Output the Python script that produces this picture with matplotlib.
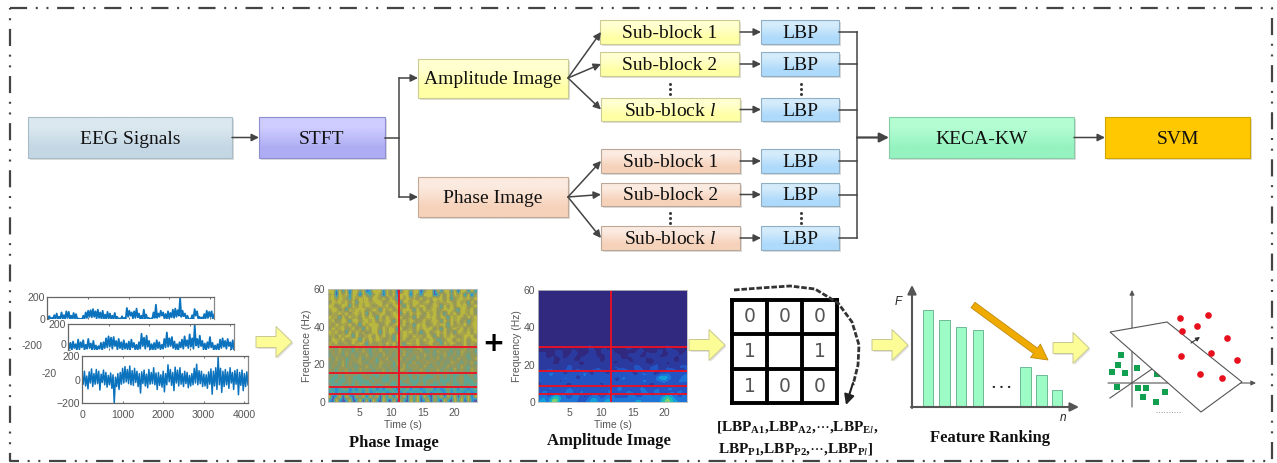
import numpy as np
import matplotlib
matplotlib.use("Agg")
import matplotlib.pyplot as plt
from matplotlib.patches import Polygon, Rectangle
from matplotlib.colors import ListedColormap

plt.rcParams['font.family'] = 'Liberation Serif'
plt.rcParams['mathtext.fontset'] = 'custom'
plt.rcParams['mathtext.rm'] = 'Liberation Serif'
plt.rcParams['mathtext.it'] = 'Liberation Serif:italic'
plt.rcParams['mathtext.bf'] = 'Liberation Serif:bold'

# ---------- data ----------
eeg_top = [40,0,25,0,10,0,35,0,50,0,20,5,60,0,35,0,70,10,65,0,30,0,55,0,45,0,5,0,0,0,30,0,60,10,75,20,80,15,90,20,70,5,85,10,
           60,0,75,0,40,0,65,5,50,0,30,0,55,0,20,0,5,0,25,0,10,0,100,20,75,30,60,5,70,10,95,15,50,0,30,0,85,5,40,0,10,0,5,0,
           60,10,130,10,50,20,75,30,60,5,45,0,70,5,55,15,85,10,95,20,80,30,190,20,75,25,50,5,30,0,0,0,35,0,90,30,70,5,20,0,
           15,0,45,0,75,10,65,20,70,0,40]
eeg_mid = [70,10,55,0,65,15,45,0,80,5,60,20,75,0,40,10,85,15,50,0,70,5,35,0,30,10,55,0,60,15,90,20,105,25,95,10,100,30,70,5,
           85,15,60,0,75,10,50,5,65,0,80,20,55,5,40,0,60,10,125,30,95,10,110,25,70,0,45,5,55,0,75,15,60,5,40,10,85,20,135,25,
           90,30,100,15,65,5,45,0,60,20,80,10,105,30,75,15,120,25,90,10,190,35,85,20,110,30,70,5,50,0,60,15,100,20,55,0,35,5,
           45,0,80,15,90,25,70,10,85,30,60,5,75,0]
eeg_bot = [40,-40,70,-55,30,-80,65,-30,90,-60,50,-40,85,-35,70,-90,45,-25,80,-45,60,-65,35,-45,55,-75,40,-200,20,-60,50,-85,
           60,-40,95,-30,110,-20,85,-35,115,-45,75,-50,95,-25,70,-60,50,-115,65,-35,80,-55,45,-70,85,-40,60,-35,100,-45,55,-85,
           60,-50,40,-65,70,-105,50,-45,125,-20,85,-50,60,-95,105,-30,80,-55,100,-40,50,-60,70,-35,60,-70,35,-55,50,-45,95,-30,
           130,-45,75,-35,70,-60,45,-55,40,-75,65,-40,90,-125,70,-55,100,-85,190,-45,95,-110,70,-60,85,-45,65,-75,100,-30,60,-85,
           75,-40,85,-130,60,-50,80,-95,50,-60,65,-45]
eeg_yticks = [0, 200]
eeg_bot_yticks = [-200, 0, 200]
eeg_xticks = [0, 1000, 2000, 3000, 4000]

phase_rows = [
 "88283818848138882858138838815881828838188283",
 "68186828718536861858287818628881385848682816",
 "78587638687858768586386867585768785836786858",
 "58786858387867885678538768857858676875867385",
 "87568738586875686857873858687568738586878568",
 "68857386878568738685768873858678568785387685",
 "57686857868385778568738586875868573868587685",
 "86738586758687385867885673856878587386875868",
 "68568738857868576873858687568578738586857368",
 "75867685738687856857868573878568687385768578",
 "58678568573868758687385675868785738568685768",
 "86857385867568738687568785736857868573876858",
 "67586873856785868573868758675873858687568785",
 "58768568738586875673868576858687356875868578",
 "76856758687385675868573876856785738687568576",
 "65476564756546574656475465764566475654657465",
 "56574654657546576465647546575464756546476564",
 "46564756465745647564657465647564657456475465",
 "64756456574656465746574654756465746564756457",
 "55647465675465476564756547465756465476546574",
 "46557465465746574654657465647546564756475465",
 "65465746475654657465476546575465746547565476",
 "45454645546454456454546445456454546454454564",
 "54454564445645454456454546454445645454564454",
 "44544564544454654454545644454564544454564445",
 "54445454645445445644544454564544454654454544",
 "43234523243534232453243524323452323534243234",
 "34243324342523434234325243342423432524332423",
 "81381831738183817381838173818317381838173818",
 "31831381381718318318173183813817318318381731",
]
phase_row_len = 44

amp_rows = [
 "000000000000000000000000000000000000",
 "000000000000000000000000000000000000",
 "000000000000000000000000000000000000",
 "000000000000000000000000000000000000",
 "000000000000000000000000000000000000",
 "000000000000000000000000000000000000",
 "000000000000000000000000000000000000",
 "000000000000000000000000000000000000",
 "000000000000000000000000000000000000",
 "000000000000000000000000000000000000",
 "000000000000000000000000000000000000",
 "000000000000000000000000000000000000",
 "000010000000100000000001000000000010",
 "001001100011000100001010010001000100",
 "011010011101101010110101001010110101",
 "101101101010210110101120110101021011",
 "111021102110120212101101211012111201",
 "120112012101211021120121102211012112",
 "211201121022112012211102120111221021",
 "112102211201121121012211211022102112",
 "221121132112212211322113212231221132",
 "213212231322132212122312321322133212",
 "233423123234213322342231243212332423",
 "323232433123242323214323323336552134",
 "232331323323232233223223243232423343",
 "133223212332223132233222322123223122",
 "323423243132432333243232342333243232",
 "243132343243123324232433243243123342",
 "342464323421343234323243234333564324",
 "453773434323454354343434534434675443",
]
amp_freq_lines = [4.3, 8.5, 16.5, 29.5]
phase_freq_lines = [4.2, 8.0, 15.5, 29]
phase_cut = 11.2
amp_cut = 11.5
spec_xticks = [5, 10, 15, 20]
spec_yticks = [0, 20, 40, 60]

lbp_cells = [["0", "0", "0"], ["1", "", "1"], ["1", "0", "0"]]
rank_values = [97, 87, 80, 77, 40, 32, 17]

svm_red = [(1180,318),(1208,315),(1197,326),(1182,331),(1227,338),(1211,353),(1181,356),(1237,360),(1200,374),(1222,378)]
svm_green = [(1121,355),(1118,365),(1112,372),(1125,373),(1137,368),(1157,374),(1117,387),(1138,388),(1146,388),(1165,392),(1143,397),(1156,402)]

# ---------- helpers ----------
W, H = 1277, 463
fig = plt.figure(figsize=(W/100, H/100), dpi=100, facecolor='white')

def inset(x0, y0, x1, y1, z):
    return fig.add_axes([x0/W, 1-y1/H, (x1-x0)/W, (y1-y0)/H], zorder=z)

bg = inset(0, 0, W, H, 0)
bg.axis('off')
ov = inset(0, 0, W, H, 20)
ov.set_xlim(0, W); ov.set_ylim(H, 0); ov.axis('off'); ov.patch.set_alpha(0)

def box(x0, y0, x1, y1, c_top, c_bot, edge, label, fs=14):
    bg.add_patch(Rectangle((x0+1.5, y0+1.5), x1-x0, y1-y0, fc='#dcdcdc', ec='none', zorder=1))
    top = np.array(matplotlib.colors.to_rgb(c_top)); bot = np.array(matplotlib.colors.to_rgb(c_bot))
    grad = np.array([top, bot]).reshape(2, 1, 3)
    bg.imshow(grad, extent=(x0, x1, y1, y0), aspect='auto', interpolation='bilinear', zorder=2)
    bg.add_patch(Rectangle((x0, y0), x1-x0, y1-y0, fc='none', ec=edge, lw=0.8, zorder=3))
    bg.text((x0+x1)/2, (y0+y1)/2-0.5, label, ha='center', va='center_baseline', fontsize=fs, color='#111111', zorder=4)

def arrow(p, q, lw=1.1, ms=11):
    bg.annotate('', xy=q, xytext=p, zorder=5,
                arrowprops=dict(arrowstyle='-|>', color='#444444', lw=lw, mutation_scale=ms, shrinkA=0, shrinkB=0))

def line(xs, ys):
    bg.plot(xs, ys, color='#444444', lw=1.1, zorder=5, solid_capstyle='projecting')

def vdots(x, y):
    bg.plot([x, x, x], [y-5, y, y+5], ls='none', marker='s', ms=1.0, color='#333333', zorder=5)

def block_arrow(x0, x1, yc, zo=6):
    pts = [(x0, yc-5.5), (x0+20, yc-5.5), (x0+20, yc-15.5), (x1, yc), (x0+20, yc+15.5), (x0+20, yc+5.5), (x0, yc+5.5)]
    ov.add_patch(Polygon([(a+1.5, b+1.5) for a, b in pts], fc='#e2e2e2', ec='none', zorder=zo))
    ov.add_patch(Polygon(pts, fc='#fdfd98', ec='#c8c890', lw=0.7, zorder=zo+1))

# ---------- top flow ----------
box(28, 117, 232, 158, '#dbe8ef', '#c4d7e4', '#a8bcc8', 'EEG Signals')
box(259, 117, 385, 158, '#cfcdff', '#aeadf4', '#8f8ed0', 'STFT')
box(418, 59, 568, 98, '#ffffd0', '#ffffa5', '#cbcb96', 'Amplitude Image')
box(418, 177, 568, 217, '#fbeadf', '#f6d2ba', '#c4ab98', 'Phase Image')

amp_y = [(20, 44), (52, 76), (98, 121)]
pha_y = [(149, 173), (183, 206), (226, 250)]
sb_names = ['Sub-block 1', 'Sub-block 2', 'Sub-block $\\mathit{l}$']
for (a, b), name, dx in zip(amp_y, sb_names, [0, 0, 1]):
    box(600+dx, a, 739+dx, b, '#ffffd0', '#ffffa5', '#cbcb96', name)
for (a, b), name in zip(pha_y, sb_names):
    box(601, a, 740, b, '#fbeadf', '#f6d2ba', '#bca898', name)
for a, b in amp_y + pha_y:
    box(761, a, 839, b, '#d3ebfb', '#aedafb', '#90afc4', 'LBP')
    m = (a+b)/2
    arrow((740, m), (761, m))
    line([839, 857], [m, m])
    arrow((568, 78 if a < 130 else 197), (601, m))
line([857, 857], [32, 238])
arrow((857, 137.5), (889, 137.5), lw=1.6, ms=14)
box(889, 117, 1074, 158, '#b4fdd2', '#95f3c0', '#86cda6', 'KECA-KW')
box(1105, 117, 1250, 158, '#ffc800', '#ffc800', '#cfa600', 'SVM')
arrow((232, 137.5), (259, 137.5))
arrow((1074, 137.5), (1105, 137.5))
line([385, 399], [137.5, 137.5])
line([399, 399], [78, 197])
arrow((399, 78), (418, 78))
arrow((399, 197), (418, 197))
for x in (670, 801):
    vdots(x, 89)
    vdots(x, 218)

# ---------- EEG panels ----------
tick_col = '#555555'
tick_font = ['Liberation Sans']
def eeg_panel(x0, y0, x1, y1, vals, ylim, yt, xt, z, lw):
    ax = inset(x0, y0, x1, y1, z)
    ax.plot(np.linspace(0, 4096, len(vals)), vals, color='#0b72bd', lw=lw)
    ax.set_xlim(0, 4096); ax.set_ylim(*ylim)
    ax.set_yticks(yt); ax.set_xticks(xt)
    ax.tick_params(colors=tick_col, labelsize=7.6, length=1.5, width=0.6, pad=1.5, direction='in', top=True)
    ax.tick_params(axis='x', pad=5)
    for t in ax.get_xticklabels() + ax.get_yticklabels():
        t.set_fontfamily(tick_font)
    for s in ax.spines.values():
        s.set_color('#666666'); s.set_linewidth(0.9)
    ax.spines['right'].set_color('#888888')
    return ax
a1 = eeg_panel(47, 297, 214, 319, eeg_top, (0, 200), eeg_yticks, eeg_xticks, 3, 1.3)
a1.spines['bottom'].set_visible(False); a1.set_xticklabels([])
a2 = eeg_panel(68, 324, 234, 350, eeg_mid, (0, 200), eeg_yticks, eeg_xticks, 4, 1.3)
a2.spines['bottom'].set_visible(False); a2.set_xticklabels([])
a2.get_yticklabels()[0].set_va('bottom')
a3 = eeg_panel(82, 356, 248, 403, eeg_bot, (-200, 200), eeg_bot_yticks, eeg_xticks, 5, 1.1)
ov_txt = dict(ha='right', va='center', fontsize=7.6, color=tick_col, family=tick_font)
bg.text(42, 346, '-200', **ov_txt)
bg.text(57, 374, '-20', **ov_txt)

# ---------- spectrograms ----------
phase_map = ListedColormap(['#45408a', '#5a5aa5', '#2f8fd0', '#3fa5b0', '#5fa58f', '#86996a', '#979858', '#a5a44c', '#b9b73e'])
amp_map = ListedColormap(['#30297f', '#2a3a9e', '#2354c4', '#1d74d8', '#12a0d8', '#20c0b0', '#80d070', '#e0d040'])
def grid(rows, n):
    return np.array([[int(c) for c in r[:n]] for r in rows])
def spec(x0, y0, x1, y1, arr, cmap, vmax, freqs, cut, ylabel, interp):
    ax = inset(x0, y0, x1, y1, 6)
    ax.imshow(arr, extent=(0, 23.6, 0, 60), aspect='auto', cmap=cmap, vmin=0, vmax=vmax, interpolation=interp)
    ax.hlines(freqs, 0, 23.6, color='#ee1020', lw=1.3)
    ax.vlines(cut, 0, 60, color='#ee1020', lw=1.3)
    ax.set_xticks(spec_xticks); ax.set_yticks(spec_yticks)
    ax.tick_params(colors=tick_col, labelsize=7.5, length=0, pad=2)
    ax.tick_params(axis='x', pad=4)
    for t in ax.get_xticklabels() + ax.get_yticklabels():
        t.set_fontfamily(tick_font)
    ax.set_xlabel('Time (s)', fontsize=7.5, color=tick_col, family=tick_font, labelpad=2)
    ax.set_ylabel(ylabel, fontsize=7.5, color=tick_col, family=tick_font, labelpad=1)
    for s in ax.spines.values():
        s.set_color('#bbbbbb'); s.set_linewidth(0.6)
spec(328, 289, 477, 402, grid(phase_rows, phase_row_len), phase_map, 8, phase_freq_lines, phase_cut, 'Frequence (Hz)', 'bilinear')
spec(538, 290, 687, 402, grid(amp_rows, 36), amp_map, 8, amp_freq_lines, amp_cut, 'Frequency (Hz)', 'bicubic')
ov.text(394, 443, 'Phase Image', ha='center', va='center', fontsize=12, fontweight='bold', color='#111111')
ov.text(609, 441, 'Amplitude Image', ha='center', va='center', fontsize=12, fontweight='bold', color='#111111')
ov.text(493, 344, '+', ha='center', va='center', fontsize=19, fontweight='bold', color='black', family='DejaVu Sans')

# ---------- block arrows ----------
block_arrow(256, 292, 342)
block_arrow(689, 725, 345)
block_arrow(872, 908, 345)
block_arrow(1053, 1089, 348)

# ---------- LBP grid ----------
gx = [732, 767, 802, 837]
gy = [300, 334, 369, 403]
for x in gx:
    ov.plot([x, x], [gy[0], gy[-1]], color='black', lw=2.8, solid_capstyle='projecting')
for y in gy:
    ov.plot([gx[0], gx[-1]], [y, y], color='black', lw=2.8, solid_capstyle='projecting')
for r, row in enumerate(lbp_cells):
    for c, v in enumerate(row):
        ov.text((gx[c]+gx[c+1])/2, (gy[r]+gy[r+1])/2, v, ha='center', va='center',
                fontsize=13.5, color='#555555', family='DejaVu Sans')
curve = np.array([(734, 290), (760, 288), (790, 286), (815, 289), (838, 303), (852, 322), (859, 345), (858, 365), (853, 385)])
ov.plot(curve[:, 0], curve[:, 1], color='#333333', lw=2.0, ls=(0, (2.0, 0.7)))
ov.annotate('', xy=(846, 405), xytext=(853, 383),
            arrowprops=dict(arrowstyle='-|>', color='#222222', lw=1.5, mutation_scale=15, shrinkA=0, shrinkB=0))
ov.text(797, 427, r'[$\mathbf{LBP}_{\mathbf{A1}}$,$\mathbf{LBP}_{\mathbf{A2}}$,$\cdots$,$\mathbf{LBP}_{\mathbf{E}l}$,',
        ha='center', va='center', fontsize=11, fontweight='bold', color='#111111')
ov.text(796, 449, r'$\mathbf{LBP}_{\mathbf{P1}}$,$\mathbf{LBP}_{\mathbf{P2}}$,$\cdots$,$\mathbf{LBP}_{\mathbf{P}l}$]',
        ha='center', va='center', fontsize=11, fontweight='bold', color='#111111')

# ---------- feature ranking ----------
rank_ax = inset(912, 287, 1077, 407, 7)
rank_ax.set_xlim(912, 1077); rank_ax.set_ylim(0, 120); rank_ax.axis('off')
rank_ax.bar([928, 944.5, 961, 978, 1025.5, 1041.5, 1057], rank_values, width=10.5,
            color='#9dfcc6', edgecolor='#6fb896', lw=0.7)
ov.annotate('', xy=(912, 285), xytext=(912, 408),
            arrowprops=dict(arrowstyle='-|>', color='#555555', lw=1.5, mutation_scale=13, shrinkA=0, shrinkB=0))
ov.annotate('', xy=(1079, 407), xytext=(911, 407),
            arrowprops=dict(arrowstyle='-|>', color='#555555', lw=1.5, mutation_scale=13, shrinkA=0, shrinkB=0))
ov.annotate('', xy=(1048, 360), xytext=(973, 305),
            arrowprops=dict(arrowstyle='simple,head_width=0.75,head_length=0.7,tail_width=0.3', fc='#f0ab00',
                            ec='#c08a10', lw=0.6, mutation_scale=16, shrinkA=0, shrinkB=0))
ov.text(898, 302, 'F', ha='center', va='center', fontsize=8.5, style='italic', family=tick_font, color='#222222')
ov.text(1063, 418, 'n', ha='center', va='center', fontsize=8.5, style='italic', family=tick_font, color='#222222')
ov.text(1001, 384, '. . .', ha='center', va='center', fontsize=11, fontweight='bold', color='#222222')
ov.text(990, 438, 'Feature Ranking', ha='center', va='center', fontsize=12, fontweight='bold', color='#111111')

# ---------- SVM sketch ----------
ov.annotate('', xy=(1132, 290), xytext=(1132, 407),
            arrowprops=dict(arrowstyle='-|>', color='#555555', lw=0.8, mutation_scale=7, shrinkA=0, shrinkB=0))
ov.annotate('', xy=(1256, 383), xytext=(1108, 383),
            arrowprops=dict(arrowstyle='-|>', color='#555555', lw=0.8, mutation_scale=7, shrinkA=0, shrinkB=0))
ov.plot([1110, 1152], [398, 369], color='#555555', lw=0.8)
ov.plot([1156, 1182], [412, 412], color='#999999', lw=0.7, ls=':')
ov.scatter([p[0] for p in svm_green], [p[1] for p in svm_green], marker='s', s=13, color='#10a050', zorder=3, lw=0)
ov.add_patch(Polygon([(1110, 332), (1167, 322), (1242, 382), (1201, 412)], fc='white', ec='#555555', lw=0.8, zorder=4))
ov.annotate('', xy=(1200, 337), xytext=(1191, 343), zorder=5,
            arrowprops=dict(arrowstyle='-|>', color='#333333', lw=0.8, mutation_scale=6, shrinkA=0, shrinkB=0))
ov.scatter([p[0] for p in svm_red], [p[1] for p in svm_red], marker='o', s=23, color='#e8101c', zorder=6, lw=0)

# ---------- dashed frame ----------
frame_style = (0, (7.7, 3.9, 0.9, 3.9, 0.9, 3.9))
bg.plot([10, 1272, 1272, 10, 10], [8, 8, 461, 461, 8], color='#444444', lw=1.6, ls=frame_style, zorder=1)
bg.set_xlim(0, W); bg.set_ylim(H, 0)

fig.savefig('out.png', dpi=100)
